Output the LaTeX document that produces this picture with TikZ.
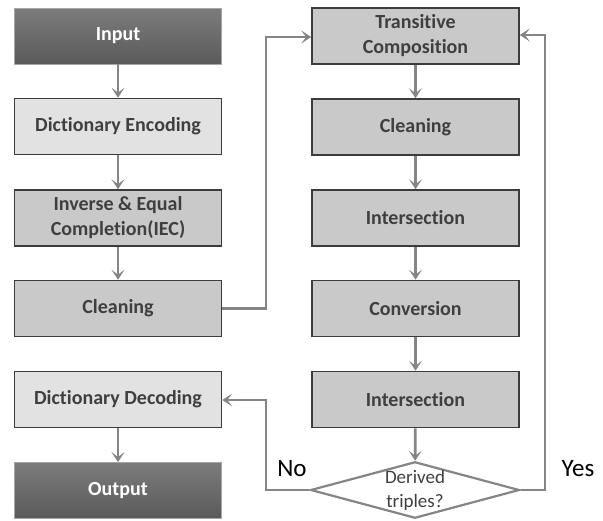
\documentclass[tikz,border=0pt]{standalone}
\usepackage{fontspec}
\setmainfont{Carlito}[RawFeature={-liga;-clig;-calt;-dlig;-rlig}]
\usetikzlibrary{shapes.geometric,arrows.meta}
\definecolor{arrowgray}{HTML}{858585}
\definecolor{edgegray}{HTML}{3C3C3C}
\definecolor{txtgray}{HTML}{3F3F3F}
\definecolor{lightfill}{HTML}{E2E2E2}
\definecolor{midfill}{HTML}{C9C9C9}
\definecolor{darktop}{HTML}{7C7C7C}
\definecolor{darkmid}{HTML}{686868}
\definecolor{darkbot}{HTML}{5A5A5A}
\tikzset{
  box/.style={rectangle, draw=edgegray, line width=1.6pt, minimum width=207pt, minimum height=56pt,
    align=center, font=\bfseries\fontsize{20}{25}\selectfont, text=txtgray, inner sep=0pt},
  lightbox/.style={box, fill=lightfill},
  midbox/.style={box, fill=midfill},
  darkbox/.style={box, draw=gray!70, line width=0.8pt, top color=darktop, middle color=darkmid, bottom color=darkbot, text=white},
  decision/.style={diamond, draw=arrowgray, line width=2.2pt, fill=white, minimum width=205pt, minimum height=55pt,
    aspect=3.7, inner sep=0pt, align=center, font=\fontsize{19}{24}\selectfont, text=txtgray},
  flow/.style={draw=arrowgray, line width=2.8pt, -{Stealth[length=10pt,width=13pt,inset=5pt]}},
  lab/.style={font=\fontsize{25}{28}\selectfont, text=black}
}
\begin{document}
\begin{tikzpicture}[x=1pt,y=-1pt]
\useasboundingbox (0,0) rectangle (603,520);
% left column
\node[darkbox]  (input) at (118,36)    {Input};
\node[lightbox] (enc)   at (118,126.5) {Dictionary Encoding};
\node[midbox]   (iec)   at (118,218)   {Inverse \& Equal\\Completion(IEC)};
\node[midbox]   (clean1) at (118,308.5) {Cleaning};
\node[lightbox] (dec)   at (118,399.5) {Dictionary Decoding};
\node[darkbox]  (output) at (118,490.5) {Output};
% right column
\node[midbox] (trans)  at (415.5,36)    {Transitive\\Composition};
\node[midbox] (clean2) at (415.5,127)   {Cleaning};
\node[midbox] (inter1) at (415.5,218)   {Intersection};
\node[midbox] (conv)   at (415.5,308.5) {Conversion};
\node[midbox] (inter2) at (415.5,399.5) {Intersection};
\node[decision] (dt)   at (415,490)     {Derived\\triples?};
% coordinates
\coordinate (c1) at (266,308.5);
\coordinate (c2) at (266,37);
\coordinate (y1) at (545,490);
\coordinate (y2) at (545,35);
\coordinate (n1) at (266,490);
\coordinate (n2) at (266,400);
% arrows
\draw[flow] (input) -- (enc);
\draw[flow] (enc) -- (iec);
\draw[flow] (iec) -- (clean1);
\draw[flow] (dec) -- (output);
\draw[flow] (trans) -- (clean2);
\draw[flow] (clean2) -- (inter1);
\draw[flow] (inter1) -- (conv);
\draw[flow] (conv) -- (inter2);
\draw[flow] (inter2) -- (dt);
\draw[flow] (clean1.east) -- (c1) -- (c2) -- (trans.west |- c2);
\draw[flow] (dt.east) -- (y1) -- (y2) -- (trans.east |- y2);
\draw[flow] (dt.west) -- (n1) -- (n2) -- (dec.east |- n2);
% labels
\node[lab] (no)  at (292,469) {No};
\node[lab] (yes) at (578,469) {Yes};
\end{tikzpicture}
\end{document}
